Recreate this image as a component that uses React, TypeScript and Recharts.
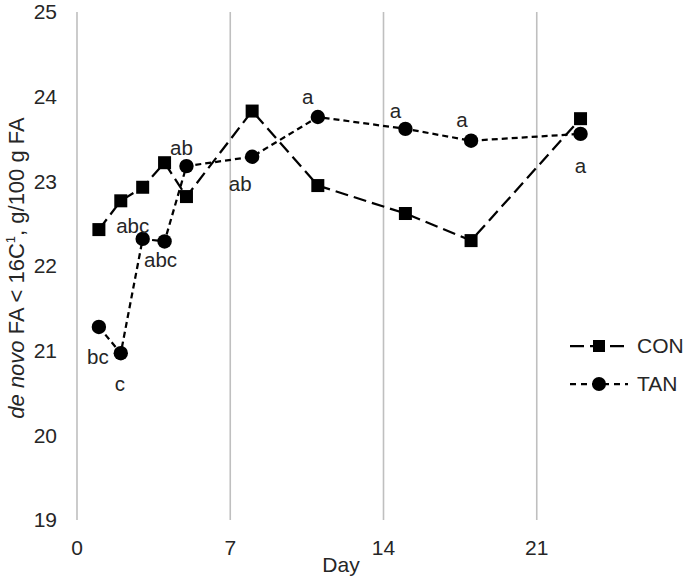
import React from 'react';
import { LineChart, Line, XAxis, YAxis, CartesianGrid, LabelList, Label } from 'recharts';

const FONT = '"Liberation Sans", Arial, Helvetica, sans-serif';
const TEXT = '#262626';

const days = [1, 2, 3, 4, 5, 8, 11, 15, 18, 23];
const conValues = [22.43, 22.77, 22.93, 23.22, 22.82, 23.83, 22.95, 22.62, 22.30, 23.74];
const tanValues = [21.28, 20.97, 22.32, 22.29, 23.18, 23.29, 23.76, 23.62, 23.48, 23.56];
const tanLetters = ['bc', 'c', 'abc', 'abc', 'ab', 'ab', 'a', 'a', 'a', 'a'];
const letterOffsets: [number, number][] = [
  [-1, 30], [-1, 31], [-10, -13], [-4, 18], [-5, -18],
  [-12, 27], [-10, -20], [-10, -18], [-9, -21], [0, 32],
];
const xTicks = [0, 7, 14, 21];
const yTicks = [19, 20, 21, 22, 23, 24, 25];

const data = days.map((d, i) => ({ day: d, con: conValues[i], tan: tanValues[i], letter: tanLetters[i] }));

const SquareDot = (props: any) => {
  const { cx, cy } = props;
  if (cx == null || cy == null) return null;
  return <rect x={cx - 6.5} y={cy - 6.5} width={13} height={13} fill="#000" />;
};
const CircleDot = (props: any) => {
  const { cx, cy } = props;
  if (cx == null || cy == null) return null;
  return <circle cx={cx} cy={cy} r={7.2} fill="#000" />;
};

const LetterLabel = (props: any) => {
  const { x, y, index, value } = props;
  if (x == null || y == null) return null;
  const [dx, dy] = letterOffsets[index] || [0, 0];
  return (
    <text x={x + dx} y={y + dy} dy="0.35em" textAnchor="middle" fontSize={20.5} fontFamily={FONT} fill={TEXT}>
      {value}
    </text>
  );
};

const YTitle = () => (
  <text
    transform="translate(16,268) rotate(-90)"
    textAnchor="middle"
    dominantBaseline="central"
    fontSize={22}
    fontFamily={FONT}
    fill={TEXT}
  >
    <tspan fontStyle="italic">de novo</tspan>
    <tspan>{' FA < 16C'}</tspan>
    <tspan dy={-6} fontSize={13}>1</tspan>
    <tspan dy={6}>{', g/100 g FA'}</tspan>
  </text>
);

const XTitle = (props: any) => {
  const vb = props.viewBox || { x: 77 };
  return (
    <text x={vb.x + 264} y={565} dy="0.35em" textAnchor="middle" fontSize={21} fontFamily={FONT} fill={TEXT}>
      Day
    </text>
  );
};

const LegendRow = ({ label, dash, marker }: { label: string; dash: string; marker: 'square' | 'circle' }) => (
  <div style={{ display: 'flex', alignItems: 'center', height: 38 }}>
    <svg width={62} height={20} style={{ display: 'block' }}>
      <line x1={0} y1={10} x2={58} y2={10} stroke="#000" strokeWidth={2.25} strokeDasharray={dash} />
      {marker === 'square' ? (
        <rect x={29 - 6} y={10 - 6} width={12} height={12} fill="#000" />
      ) : (
        <circle cx={29} cy={10} r={7} fill="#000" />
      )}
    </svg>
    <span style={{ fontFamily: FONT, fontSize: 21, color: TEXT, marginLeft: 5 }}>{label}</span>
  </div>
);

export default function App() {
  return (
    <div style={{ position: 'absolute', left: 0, top: 0, width: 685, height: 576, overflow: 'hidden', background: '#fff' }}>
      <LineChart width={700} height={576} data={data} margin={{ top: 12, right: 10, bottom: 0, left: 0 }}>
        <CartesianGrid vertical={true} horizontal={false} stroke="#bfbfbf" strokeWidth={1.6} />
        <XAxis
          dataKey="day"
          type="number"
          domain={[0, 28]}
          ticks={xTicks}
          interval={0}
          axisLine={false}
          tickLine={false}
          tickSize={0}
          tickMargin={20}
          height={56}
          tick={{ fontSize: 21, fill: TEXT, fontFamily: FONT }}
        >
          <Label content={XTitle} />
        </XAxis>
        <YAxis
          type="number"
          domain={[19, 25]}
          ticks={yTicks}
          interval={0}
          axisLine={false}
          tickLine={false}
          tickSize={0}
          tickMargin={20}
          width={77}
          tick={{ fontSize: 21, fill: TEXT, fontFamily: FONT }}
        >
          <Label content={YTitle} />
        </YAxis>
        <Line
          type="linear"
          dataKey="con"
          stroke="#000"
          strokeWidth={2.25}
          strokeDasharray="13 6"
          dot={<SquareDot />}
          activeDot={false}
          isAnimationActive={false}
        />
        <Line
          type="linear"
          dataKey="tan"
          stroke="#000"
          strokeWidth={2.25}
          strokeDasharray="6 4"
          dot={<CircleDot />}
          activeDot={false}
          isAnimationActive={false}
        >
          <LabelList dataKey="letter" content={LetterLabel} />
        </Line>
      </LineChart>
      <div style={{ position: 'absolute', left: 570, top: 327 }}>
        <LegendRow label="CON" dash="14 6" marker="square" />
        <LegendRow label="TAN" dash="6 5" marker="circle" />
      </div>
    </div>
  );
}
